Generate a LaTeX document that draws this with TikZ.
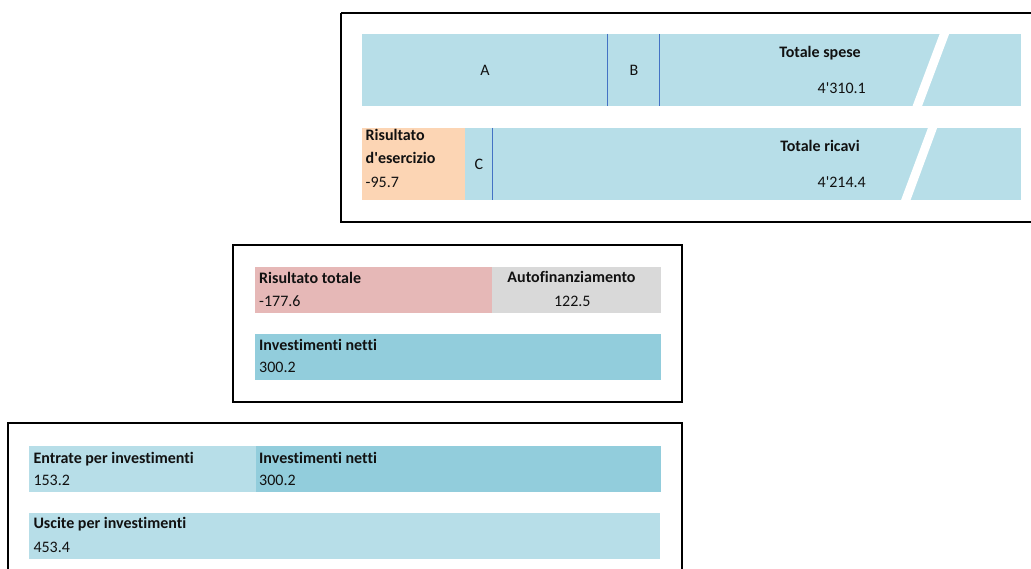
\documentclass[tikz,border=0pt]{standalone}
\usepackage{fontspec}
\setmainfont[Ligatures={NoCommon}]{Carlito}
\definecolor{lblue}{HTML}{B7DEE8}
\definecolor{dblue}{HTML}{92CDDC}
\definecolor{lorange}{HTML}{FCD5B4}
\definecolor{lpink}{HTML}{E6B8B7}
\definecolor{lgrey}{HTML}{D9D9D9}
\definecolor{divblue}{HTML}{4472C4}
\definecolor{txt}{HTML}{111111}
\tikzset{
  frame/.style={draw=black, line width=2pt},
  lbl/.style={inner sep=0pt, text=txt, font=\fontsize{16}{19}\selectfont\bfseries},
  val/.style={inner sep=0pt, text=txt, font=\fontsize{16}{19}\selectfont},
  divider/.style={draw=divblue, line width=1pt},
  gap/.style={fill=white, draw=none}
}
\begin{document}
\begin{tikzpicture}[x=1pt,y=-1pt]
\useasboundingbox (0,0) rectangle (1031,569);
\clip (0,0) rectangle (1031,569);
\fill[white] (0,0) rectangle (1031,569);

% ---------- Panel 1 ----------
\draw[frame] (341,13) -- (1040,13) (341,13) -- (341,222) -- (1040,222);
\fill[lblue] (362,34) rectangle (1021,106.5);
\fill[lblue] (465,128) rectangle (1021,200.5);
\fill[lorange] (362,128) rectangle (465,200.5);
\draw[divider] (607.3,34) -- (607.3,106.5);
\draw[divider] (659.3,34) -- (659.3,106.5);
\draw[divider] (492.3,128) -- (492.3,200.5);
\fill[gap] (940,33) -- (949.5,33) -- (921.5,107.5) -- (912,107.5) -- cycle;
\fill[gap] (928.3,127) -- (937.5,127) -- (910,201.5) -- (900.5,201.5) -- cycle;

\node[val, anchor=base] (a) at (485,75.5) {A};
\node[val, anchor=base] (b) at (634,75.5) {B};
\node[lbl, anchor=base] (ts) at (820,57.3) {Totale spese};
\node[val, anchor=base east] (tsv) at (866,93.3) {4\textquotesingle310.1};
\node[lbl, anchor=base west] (re1) at (365.5,140.2) {Risultato};
\node[lbl, anchor=base west] (re2) at (365.5,163.2) {d\textquotesingle esercizio};
\node[val, anchor=base west] (rev) at (365.5,188) {-95.7};
\node[val, anchor=base] (c) at (479,169.5) {C};
\node[lbl, anchor=base] (tr) at (820,151.7) {Totale ricavi};
\node[val, anchor=base east] (trv) at (866,187.3) {4\textquotesingle214.4};

% ---------- Panel 2 ----------
\draw[frame] (233.3,245) rectangle (681.5,401.5);
\fill[lpink] (255,266.7) rectangle (492.3,312.7);
\fill[lgrey] (492.3,266.7) rectangle (661,312.7);
\fill[dblue] (255,334) rectangle (661,380);
\node[lbl, anchor=base west] (rt) at (259,283.5) {Risultato totale};
\node[val, anchor=base west] (rtv) at (259,307) {-177.6};
\node[lbl, anchor=base] (af) at (571.5,282.3) {Autofinanziamento};
\node[val, anchor=base] (afv) at (572.3,306.7) {122.5};
\node[lbl, anchor=base west] (in2) at (259,351) {Investimenti netti};
\node[val, anchor=base west] (in2v) at (259,373) {300.2};

% ---------- Panel 3 ----------
\draw[frame] (7.5,580) -- (7.5,423.3) -- (681.5,423.3) -- (681.5,580);
\fill[lblue] (29.3,446) rectangle (255.5,491.7);
\fill[dblue] (255.5,446) rectangle (661,491.7);
\fill[lblue] (29.3,513.3) rectangle (660,559);
\node[lbl, anchor=base west] (ent) at (33.3,463.2) {Entrate per investimenti};
\node[val, anchor=base west] (entv) at (33.3,485.5) {153.2};
\node[lbl, anchor=base west] (in3) at (259,463.2) {Investimenti netti};
\node[val, anchor=base west] (in3v) at (259,485.5) {300.2};
\node[lbl, anchor=base west] (usc) at (33.3,528.5) {Uscite per investimenti};
\node[val, anchor=base west] (uscv) at (33.3,552) {453.4};
\end{tikzpicture}
\end{document}
